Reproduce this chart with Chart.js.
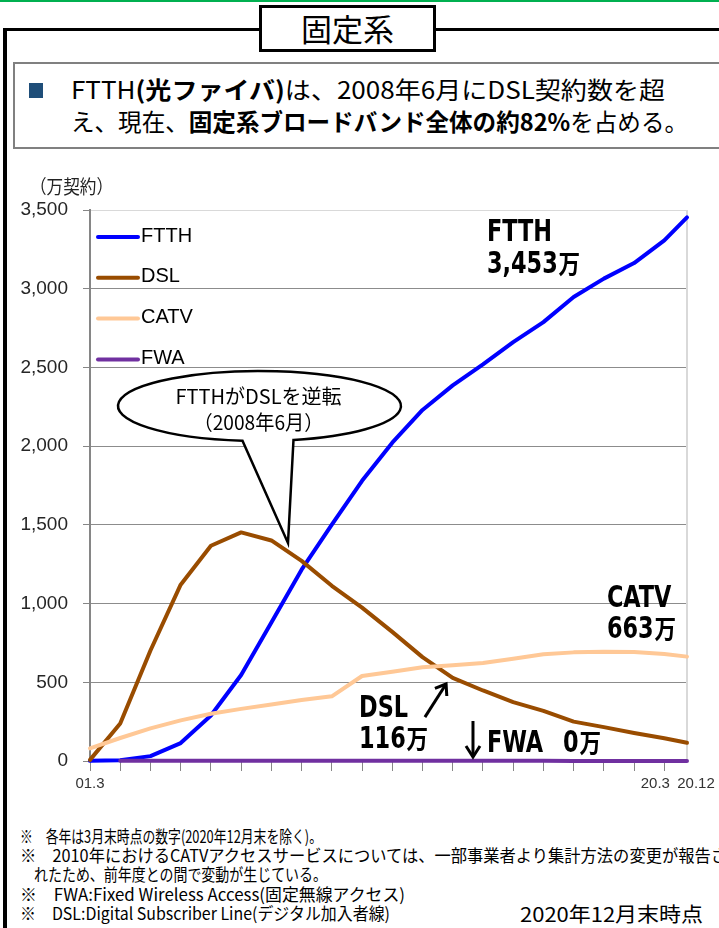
<!DOCTYPE html>
<html lang="ja">
<head>
<meta charset="utf-8">
<script src="https://cdn.jsdelivr.net/npm/chart.js@4.4.1/dist/chart.umd.min.js"></script>
<style>
html,body{margin:0;padding:0;background:#fff;}
body{width:719px;height:928px;position:relative;overflow:hidden;font-family:"Noto Sans CJK JP",sans-serif;color:#000;}
.abs{position:absolute;white-space:nowrap;}
#greenline{left:0;top:0;width:719px;height:2px;background:#00B050;}
#frameTop{left:3px;top:28px;width:716px;height:3px;background:#000;}
#frameLeft{left:3px;top:28px;width:4px;height:900px;background:#000;}
#titleBox{left:259px;top:5px;width:177px;height:47px;box-sizing:border-box;border:3px solid #000;background:#fff;font-size:31px;line-height:40px;text-align:center;}
#textBox{left:13px;top:62px;width:720px;height:87px;box-sizing:border-box;border:2px solid #808080;}
#bullet{left:29px;top:83px;width:14px;height:15px;background:#1F4E79;}
.fit{transform-origin:0 50%;}
.big{font-size:24px;line-height:30px;}
.note{font-size:17px;line-height:20px;}
b{font-weight:bold;}
#chartWrap{left:0;top:150px;width:719px;height:650px;}
</style>
</head>
<body>
<div id="greenline" class="abs"></div>
<div id="frameTop" class="abs"></div>
<div id="frameLeft" class="abs"></div>
<div id="titleBox" class="abs">固定系</div>
<div id="textBox" class="abs"></div>
<div id="bullet" class="abs"></div>
<div class="abs big fit" style="left:71px;top:74px;" data-w="594">FTTH<b>(光ファイバ)</b>は、2008年6月にDSL契約数を超</div>
<div class="abs big fit" style="left:71px;top:106px;" data-w="617">え、現在、<b>固定系ブロードバンド全体の約82%</b>を占める。</div>

<div id="chartWrap" class="abs"><canvas id="c"></canvas></div>

<div class="abs fit" style="left:30px;top:172px;font-size:19px;line-height:28px;color:#222;" data-w="83">（万契約）</div>

<div class="abs note fit" style="left:20px;top:826px;" data-w="302">※　各年は3月末時点の数字(2020年12月末を除く)。</div>
<div class="abs note fit" style="left:20px;top:845px;" data-w="707">※　2010年におけるCATVアクセスサービスについては、一部事業者より集計方法の変更が報告さ</div>
<div class="abs note fit" style="left:34px;top:864px;" data-w="293">れたため、前年度との間で変動が生じている。</div>
<div class="abs note fit" style="left:20px;top:884px;" data-w="385">※　FWA:Fixed Wireless Access(固定無線アクセス)</div>
<div class="abs note fit" style="left:20px;top:903px;" data-w="370">※　DSL:Digital Subscriber Line(デジタル加入者線)</div>
<div class="abs fit" style="left:520px;top:901px;font-size:20px;line-height:26px;" data-w="183">2020年12月末時点</div>

<script>
// ---- data ----
const categories = ['01.3','02.3','03.3','04.3','05.3','06.3','07.3','08.3','09.3','10.3','11.3','12.3','13.3','14.3','15.3','16.3','17.3','18.3','19.3','20.3','20.12'];
const ftth = [1, 5, 31, 114, 289, 546, 880, 1215, 1502, 1780, 2022, 2230, 2386, 2520, 2661, 2788, 2947, 3064, 3163, 3307, 3453];
const dsl  = [7, 238, 702, 1120, 1367, 1452, 1401, 1271, 1113, 974, 820, 660, 528, 448, 374, 318, 250, 215, 178, 145, 116];
const catv = [80, 146, 207, 258, 300, 331, 359, 387, 411, 540, 567, 595, 608, 622, 650, 678, 690, 694, 692, 680, 663];
const fwa  = [null, 1, 2, 2, 2, 2, 1, 1, 1, 1, 1, 1, 1, 1, 1, 1, 0, 0, 0, 0, 0];
const seriesNames = ['FTTH', 'DSL', 'CATV', 'FWA'];
const seriesColors = ['#0000FF', '#994C00', '#FFC896', '#7030A0'];
const seriesOrder = [3, 2, 1, 0];
const yTickValues = [0, 500, 1000, 1500, 2000, 2500, 3000, 3500];
const xLabelCats = ['01.3', '20.3', '20.12'];
const xLabelShift = [0, -9, 9];

// ---- fit html text widths ----
document.querySelectorAll('.fit').forEach(el => {
  if (el.dataset.w) {
    const s = parseFloat(el.dataset.w) / el.getBoundingClientRect().width;
    el.style.transform = 'scaleX(' + s + ')';
  }
});

// ---- helpers ----
function catToX(c) { const p = c.split('.').map(Number); return (p[0] - 1) + (p[1] - 3) / 12; }
const xs = categories.map(catToX);
const xTickValues = categories.filter(c => c.endsWith('.3')).map(catToX);
const seriesData = [ftth, dsl, catv, fwa];

const SANS = '"Liberation Sans", Arial, sans-serif';
const NARROW = '"Liberation Sans Narrow", "DejaVu Sans Condensed", "Noto Sans CJK JP", sans-serif';
const CJK = '"Noto Sans CJK JP", sans-serif';

function fitText(ctx, text, x, y, maxW, align) {
  const w = ctx.measureText(text).width;
  const s = (maxW && w > maxW) ? maxW / w : 1;
  ctx.save();
  ctx.translate(x, y);
  ctx.scale(s, 1);
  ctx.textAlign = align || 'left';
  ctx.fillText(text, 0, 0);
  ctx.restore();
}
function drawBoldLabel(ctx, text, x, y) {
  let main = text, suffix = '';
  if (text.endsWith('万')) { main = text.slice(0, -1); suffix = '万'; }
  ctx.save();
  ctx.translate(x, y);
  ctx.scale(0.83, 1);
  ctx.font = 'bold 30px ' + NARROW;
  ctx.textAlign = 'left';
  ctx.textBaseline = 'alphabetic';
  ctx.fillText(main, 0, 0);
  const w = ctx.measureText(main).width;
  if (suffix) {
    ctx.font = 'bold 26px ' + CJK;
    ctx.fillText(suffix, w + 1, 1);
  }
  ctx.restore();
}

// annotation texts anchored in data units
const labelTexts = [
  { x: 13.13, y: 3303, t: 'FTTH' }, { x: 13.13, y: 3100, t: '3,453万' },
  { x: 17.10, y: 978, t: 'CATV' }, { x: 17.10, y: 781, t: '663万' },
  { x: 8.90, y: 279, t: 'DSL' }, { x: 8.90, y: 83, t: '116万' },
  { x: 13.13, y: 57, t: 'FWA' }, { x: 15.65, y: 57, t: '0万' }
];

const extras = {
  id: 'extras',
  beforeDatasetsDraw(chart) {
    const { ctx, chartArea: a } = chart;
    ctx.save();
    ctx.strokeStyle = '#d9d9d9';
    ctx.lineWidth = 2;
    ctx.beginPath();
    ctx.moveTo(a.right, a.top);
    ctx.lineTo(a.right, a.bottom);
    ctx.stroke();
    ctx.restore();
  },
  afterDatasetsDraw(chart) {
    const { ctx, chartArea: a, scales: { x, y } } = chart;
    ctx.save();
    // legend
    seriesNames.forEach((n, i) => {
      const yy = a.top + 27 + i * 40.8;
      ctx.strokeStyle = seriesColors[i];
      ctx.lineWidth = 4;
      ctx.lineCap = 'round';
      ctx.beginPath();
      ctx.moveTo(a.left + 8, yy);
      ctx.lineTo(a.left + 48, yy);
      ctx.stroke();
      ctx.fillStyle = '#000';
      ctx.font = '20px ' + SANS;
      ctx.textBaseline = 'middle';
      ctx.textAlign = 'left';
      ctx.fillText(n, a.left + 51, yy - 1);
    });

    // x labels
    ctx.fillStyle = '#333';
    ctx.font = '15px ' + SANS;
    ctx.textBaseline = 'middle';
    xLabelCats.forEach((c, i) => {
      ctx.textAlign = 'center';
      ctx.fillText(c, x.getPixelForValue(catToX(c)) + xLabelShift[i], a.bottom + 23);
    });

    // callout
    const cx = x.getPixelForValue(5.607), cy = y.getPixelForValue(2255);
    const rx = 141.5, ry = 35;
    const tipX = x.getPixelForValue(6.55), tipY = y.getPixelForValue(1385);
    const tL = Math.acos(-17 / rx), tR = Math.acos(34 / rx);
    ctx.beginPath();
    ctx.moveTo(tipX, tipY);
    ctx.lineTo(cx + rx * Math.cos(tL), cy + ry * Math.sin(tL));
    ctx.ellipse(cx, cy, rx, ry, 0, tL, tR + Math.PI * 2, false);
    ctx.closePath();
    ctx.fillStyle = '#fff';
    ctx.fill();
    ctx.strokeStyle = '#000';
    ctx.lineWidth = 2.5;
    ctx.lineJoin = 'miter';
    ctx.stroke();
    ctx.fillStyle = '#000';
    ctx.font = '20px ' + CJK;
    ctx.textBaseline = 'middle';
    fitText(ctx, 'FTTHがDSLを逆転', cx - 1, cy - 10, 168, 'center');
    fitText(ctx, '（2008年6月）', cx - 1, cy + 16, 130, 'center');

    // bold labels
    labelTexts.forEach(l => drawBoldLabel(ctx, l.t, x.getPixelForValue(l.x), y.getPixelForValue(l.y)));

    // DSL arrow
    const ax1 = x.getPixelForValue(11.08), ay1 = y.getPixelForValue(279);
    const ax2 = x.getPixelForValue(11.78), ay2 = y.getPixelForValue(489);
    ctx.strokeStyle = '#000';
    ctx.lineWidth = 3;
    ctx.lineCap = 'butt';
    ctx.beginPath();
    ctx.moveTo(ax1, ay1);
    ctx.lineTo(ax2, ay2);
    ctx.stroke();
    const ang = Math.atan2(ay2 - ay1, ax2 - ax1);
    ctx.beginPath();
    ctx.moveTo(ax2 + Math.cos(ang + Math.PI * 0.8) * 12, ay2 + Math.sin(ang + Math.PI * 0.8) * 12);
    ctx.lineTo(ax2, ay2);
    ctx.lineTo(ax2 + Math.cos(ang - Math.PI * 0.8) * 12, ay2 + Math.sin(ang - Math.PI * 0.8) * 12);
    ctx.stroke();

    // FWA down arrow
    const dx = x.getPixelForValue(12.67), dy1 = y.getPixelForValue(254), dy2 = y.getPixelForValue(25);
    ctx.beginPath();
    ctx.moveTo(dx, dy1);
    ctx.lineTo(dx, dy2);
    ctx.stroke();
    ctx.beginPath();
    ctx.moveTo(dx - 7, dy2 - 11);
    ctx.lineTo(dx, dy2);
    ctx.lineTo(dx + 7, dy2 - 11);
    ctx.stroke();
    ctx.restore();
  }
};

new Chart(document.getElementById('c'), {
  type: 'line',
  data: {
    datasets: seriesNames.map((n, i) => ({
      label: n,
      data: xs.map((xv, j) => ({ x: xv, y: seriesData[i][j] })),
      borderColor: seriesColors[i],
      backgroundColor: seriesColors[i],
      borderWidth: 4,
      pointRadius: 0,
      tension: 0,
      fill: false,
      clip: false,
      order: seriesOrder[i],
      borderCapStyle: 'round',
      borderJoinStyle: 'round'
    }))
  },
  options: {
    responsive: true,
    maintainAspectRatio: false,
    animation: false,
    devicePixelRatio: 1,
    layout: { padding: { top: 60, right: 32, left: 0, bottom: 0 } },
    plugins: { legend: { display: false }, tooltip: { enabled: false } },
    scales: {
      x: {
        type: 'linear',
        min: xs[0],
        max: xs[xs.length - 1],
        afterBuildTicks: s => { s.ticks = xTickValues.map(v => ({ value: v })); },
        afterFit: s => { s.height = 39; },
        ticks: { display: false },
        grid: { display: true, drawOnChartArea: false, drawTicks: true, tickLength: 10, color: '#868686' },
        border: { display: true, color: '#868686', width: 1 }
      },
      y: {
        min: 0,
        max: 3500,
        afterBuildTicks: s => { s.ticks = yTickValues.map(v => ({ value: v })); },
        afterFit: s => { s.width = 90; },
        ticks: {
          padding: 15,
          color: '#262626',
          font: { family: SANS, size: 19 },
          callback: v => Number(v).toLocaleString('en-US')
        },
        grid: {
          color: c => (c.tick && c.tick.value === 3500) ? '#d9d9d9' : '#8c8c8c',
          tickColor: '#868686',
          tickLength: 7,
          lineWidth: 1
        },
        border: { display: true, color: '#868686', width: 2 }
      }
    }
  },
  plugins: [extras]
});
</script>
</body>
</html>
